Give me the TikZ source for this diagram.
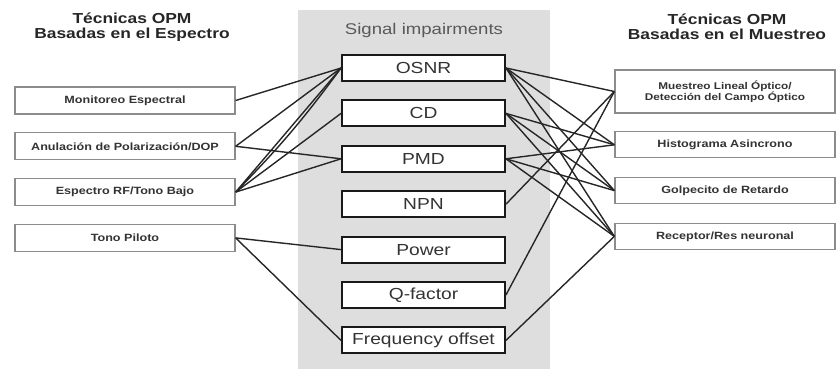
\documentclass[tikz,border=0pt]{standalone}
\usepackage{fontspec}
\setmainfont{Liberation Sans}[FakeStretch=1.2]
\usetikzlibrary{positioning}

\begin{document}
\begin{tikzpicture}[x=1pt, y=1pt,
		  node distance=17.5pt,
		  title/.style={align=center, text=black!85, font=\fontsize{14.5}{15}\selectfont\bfseries},
		  sbox/.style={draw=black!45, line width=1.3pt, fill=white, align=center, minimum width=220pt, minimum height=27pt, inner sep=2pt, text=black!80, font=\fontsize{10.5}{11}\selectfont\bfseries},
		  imp/.style={draw=black!90, line width=1.9pt, fill=white, minimum width=163pt, minimum height=26pt, inner sep=2pt, text=black!80, font=\fontsize{16}{17}\selectfont},
		  link/.style={draw=black!85, line width=1.4pt}
		]
		\useasboundingbox (0,0) rectangle (836,-369);
		\fill[black!13] (298,-10) rectangle (550,-369);
		
		% titles
		\node[title] (l_title) at (132,-27) {Técnicas OPM\\Basadas en el Espectro};
		\node[title] (r_title) at (727,-27) {Técnicas OPM\\Basadas en el Muestreo};
		\node[text=black!65, font=\fontsize{15.5}{16}\selectfont] (c_title) at (424,-30) {Signal impairments};
		
		% spectrum based
		\node[sbox] (l_mon) at (125,-100.5) {Monitoreo Espectral};
		\node[sbox, below=of l_mon] (l_anu) {Anulación de Polarización/DOP};
		\node[sbox, below=of l_anu] (l_esp) {Espectro RF/Tono Bajo};
		\node[sbox, below=of l_esp] (l_tono) {Tono Piloto};
		
		% impairments
		\node[imp] (c_osnr) at (423.5,-68) {OSNR};
		\node[imp, below=of c_osnr] (c_cd) {CD};
		\node[imp, below=of c_cd] (c_pmd) {PMD};
		\node[imp, below=of c_pmd] (c_npn) {NPN};
		\node[imp, below=of c_npn] (c_pow) {Power};
		\node[imp, below=of c_pow] (c_qf) {Q-factor};
		\node[imp, below=of c_qf] (c_fo) {Frequency offset};
		
		% sampling based
		\node[sbox, minimum height=43pt, font=\fontsize{9.8}{11}\selectfont\bfseries] (r_mle) at (725,-91.5) {Muestreo Lineal Óptico/\\Detección del Campo Óptico};
		\node[sbox, minimum height=26pt, below=of r_mle] (r_hist) {Histograma Asincrono};
		\node[sbox, minimum height=26pt, below=18.5pt of r_hist] (r_golp) {Golpecito de Retardo};
		\node[sbox, minimum height=26pt, below=18.5pt of r_golp] (r_rec) {Receptor/Res neuronal};
		
		\draw[link] (l_mon.east) -- (c_osnr.west);
		\draw[link] (l_anu.east) -- (c_osnr.west);
		\draw[link] (l_anu.east) -- (c_pmd.west);
		\draw[link] (l_esp.east) -- (c_osnr.west);
		\draw[link] (l_esp.east) to[bend right=4] (c_osnr.west);
		\draw[link] (l_esp.east) -- (c_cd.west);
		\draw[link] (l_esp.east) -- (c_pmd.west);
		\draw[link] (l_tono.east) -- (c_pow.west);
		\draw[link] (l_tono.east) -- (c_fo.west);
		
		\draw[link] (c_osnr.east) -- (r_mle.west);
		\draw[link] (c_osnr.east) -- (r_hist.west);
		\draw[link] (c_osnr.east) -- (r_golp.west);
		\draw[link] (c_osnr.east) -- (r_rec.west);
		\draw[link] (c_cd.east) -- (r_hist.west);
		\draw[link] (c_cd.east) -- (r_golp.west);
		\draw[link] (c_cd.east) -- (r_rec.west);
		\draw[link] (c_pmd.east) -- (r_hist.west);
		\draw[link] (c_pmd.east) -- (r_golp.west);
		\draw[link] (c_pmd.east) -- (r_rec.west);
		\draw[link] (c_npn.east) -- (r_mle.west);
		\draw[link] (c_qf.east) -- (r_mle.west);
		\draw[link] (c_fo.east) -- (r_rec.west);
		\end{tikzpicture}
\end{document}
